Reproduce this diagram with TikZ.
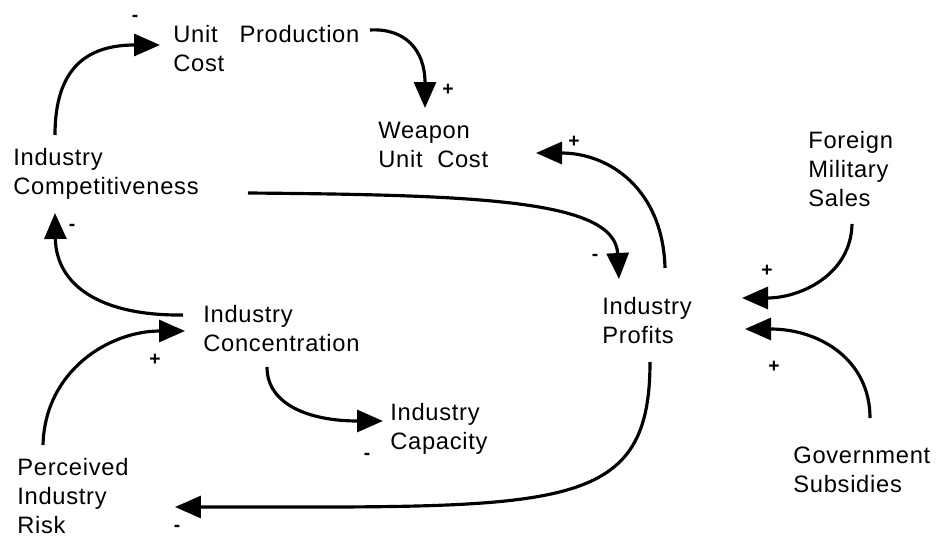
\documentclass[tikz,border=0pt]{standalone}
\usepackage{fontspec}
\setmainfont{Liberation Sans}[LetterSpace=3]
\usetikzlibrary{arrows.meta}
\tikzset{
    var/.style={anchor=north west, inner sep=0pt, align=left, font=\fontsize{13.5}{16.5}\selectfont},
    link/.style={line width=1.8pt, -{Triangle[length=0.52cm,width=0.44cm]}},
    sign/.style={inner sep=0pt, font=\fontsize{11}{12}\bfseries}
}

\begin{document}
\begin{tikzpicture}[x=0.02cm,y=-0.02cm]
    \useasboundingbox (0,0) rectangle (940,537);

    \node[var] (upc)  at (173,25)  {Unit\ \ \ Production\\Cost};
    \node[var] (wuc)  at (378,122) {Weapon\\Unit\ \ Cost};
    \node[var] (comp) at (13,148)  {Industry\\Competitiveness};
    \node[var] (fms)  at (808,131) {Foreign\\Military\\Sales};
    \node[var] (prof) at (602,297) {Industry\\Profits};
    \node[var] (conc) at (203,305) {Industry\\Concentration};
    \node[var] (cap)  at (390,403) {Industry\\Capacity};
    \node[var] (risk) at (17,458)  {Perceived\\Industry\\Risk};
    \node[var] (gov)  at (793,447) {Government\\Subsidies};

    \draw[link] ([shift={(42,-13)}]comp.north west) .. controls +(0,-65) and +(-75,0) .. ([shift={(-13,20)}]upc.north west);
    \draw[link] ([shift={(197,5)}]upc.north west) .. controls +(35,-2) and +(0,-58) .. ([shift={(47,-14)}]wuc.north west);
    \draw[link] ([shift={(235,45)}]comp.north west) .. controls +(232,2) and +(-4,-79) .. ([shift={(17,-18)}]prof.north west);
    \draw[link] ([shift={(63,-29)}]prof.north west) .. controls +(-2,-78) and +(74,0) .. ([shift={(158,31)}]wuc.north west);
    \draw[link] ([shift={(44,93)}]fms.north west) .. controls +(-1,51) and +(58,0) .. ([shift={(140,1)}]prof.north west);
    \draw[link] ([shift={(77,-29)}]gov.north west) .. controls +(0,-58) and +(75,0) .. ([shift={(143,32)}]prof.north west);
    \draw[link] ([shift={(-20,10)}]conc.north west) .. controls +(-83,1) and +(1,72) .. ([shift={(42,65)}]comp.north west);
    \draw[link] ([shift={(26,-13)}]risk.north west) .. controls +(2,-75) and +(-75,0) .. ([shift={(-18,26)}]conc.north west);
    \draw[link] ([shift={(64,62)}]conc.north west) .. controls +(0,38) and +(-73,0) .. ([shift={(-7,18)}]cap.north west);
    \draw[link] ([shift={(48,65)}]prof.north west) .. controls +(0,153) and +(385,0) .. ([shift={(158,49)}]risk.north west);

    \node[sign] (pol1)  at (135,18)  {-};
    \node[sign] (pol2)  at (448,90)  {+};
    \node[sign] (pol3)  at (595,257) {-};
    \node[sign] (pol4)  at (574,142) {+};
    \node[sign] (pol5)  at (767,271) {+};
    \node[sign] (pol6)  at (774,367) {+};
    \node[sign] (pol7)  at (72,227)  {-};
    \node[sign] (pol8)  at (155,360) {+};
    \node[sign] (pol9)  at (367,456) {-};
    \node[sign] (pol10) at (177,528) {-};
\end{tikzpicture}
\end{document}
